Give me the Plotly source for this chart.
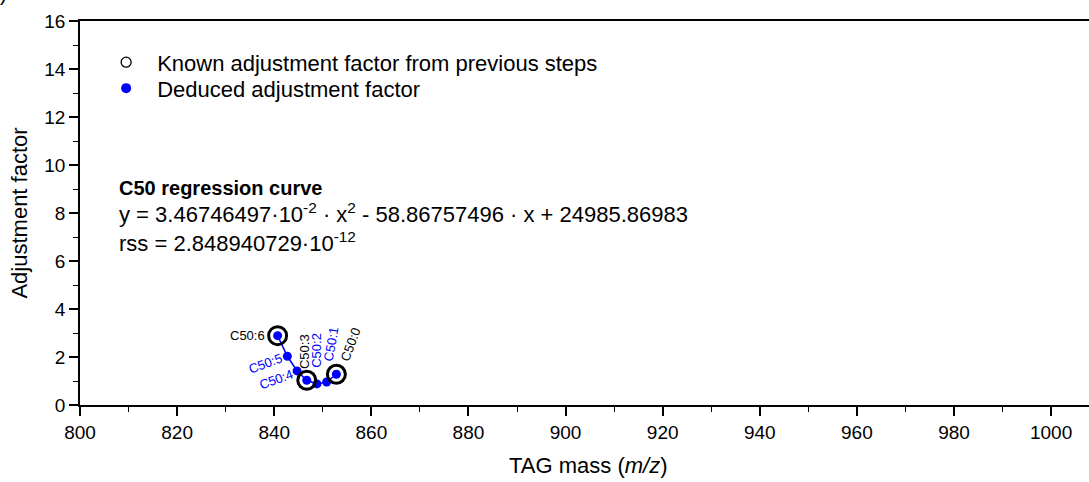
import plotly.graph_objects as go

# ---------------- data ----------------
species = ["C50:6", "C50:5", "C50:4", "C50:3", "C50:2", "C50:1", "C50:0"]
mass = [840.7, 842.7, 844.7, 846.7, 848.8, 850.8, 852.8]
factor = [2.89, 2.03, 1.42, 1.03, 0.88, 0.96, 1.28]
known_species = ["C50:6", "C50:3", "C50:0"]
known_mass = [840.7, 846.7, 852.8]
known_factor = [2.89, 1.03, 1.28]

x_ticks = [800, 820, 840, 860, 880, 900, 920, 940, 960, 980, 1000]
y_ticks = [0, 2, 4, 6, 8, 10, 12, 14, 16]

FONT = "Liberation Sans, Arial, sans-serif"
BLUE = "#0000ff"

fig = go.Figure()

# regression curve / deduced points
fig.add_trace(go.Scatter(
    x=mass, y=factor, mode="lines+markers",
    line=dict(color=BLUE, width=1.5),
    marker=dict(color=BLUE, size=9),
    showlegend=False, hoverinfo="skip"))

# known points (open black circles)
fig.add_trace(go.Scatter(
    x=known_mass, y=known_factor, mode="markers",
    marker=dict(symbol="circle-open", color="black", size=18, line=dict(width=3, color="black")),
    showlegend=False, hoverinfo="skip"))

# legend entries (each in its own legend box for exact placement)
fig.add_trace(go.Scatter(
    x=[None], y=[None], mode="markers", name="Known adjustment factor from previous steps",
    marker=dict(symbol="circle-open", color="black", size=10, line=dict(width=1.3, color="black")),
    legend="legend"))
fig.add_trace(go.Scatter(
    x=[None], y=[None], mode="markers", name="Deduced adjustment factor",
    marker=dict(color=BLUE, size=10), legend="legend2"))

# point labels
label_style = {
    "C50:6": dict(color="black", angle=0, ax=-30, ay=0),
    "C50:5": dict(color=BLUE, angle=-20, ax=-22, ay=7),
    "C50:4": dict(color=BLUE, angle=-20, ax=-21, ay=9),
    "C50:3": dict(color="black", angle=-90, ax=-2, ay=-29),
    "C50:2": dict(color=BLUE, angle=-90, ax=0, ay=-34),
    "C50:1": dict(color=BLUE, angle=-80, ax=5, ay=-38),
    "C50:0": dict(color="black", angle=-70, ax=14, ay=-30),
}
for s, xm, ym in zip(species, mass, factor):
    st = label_style[s]
    fig.add_annotation(x=xm, y=ym, text=s, showarrow=True, arrowcolor="rgba(0,0,0,0)",
                       ax=st["ax"], ay=st["ay"], textangle=st["angle"],
                       font=dict(family=FONT, size=13, color=st["color"]))

# regression text
TXT = 22
fig.add_annotation(xref="paper", yref="paper", x=0.0367, y=0.5647, xanchor="left", yanchor="middle",
                   text="<b>C50 regression curve</b>", showarrow=False,
                   font=dict(family=FONT, size=20, color="black"))
fig.add_annotation(xref="paper", yref="paper", x=0.0367, y=0.499, xanchor="left", yanchor="middle",
                   text="y = 3.46746497·10<sup>-2</sup> · x<sup>2</sup> - 58.86757496 · x + 24985.86983",
                   showarrow=False, font=dict(family=FONT, size=TXT, color="black"))
fig.add_annotation(xref="paper", yref="paper", x=0.0367, y=0.425, xanchor="left", yanchor="middle",
                   text="rss = 2.848940729·10<sup>-12</sup>",
                   showarrow=False, font=dict(family=FONT, size=TXT, color="black"))

# x-axis title
fig.add_annotation(xref="paper", yref="paper", x=(588 - 80) / 1009, y=-(466 - 405) / 384.3,
                   xanchor="center", yanchor="middle",
                   text="TAG mass (<i>m/z</i>)", showarrow=False,
                   font=dict(family=FONT, size=22, color="black"))

# cropped panel-label fragments at the page edges
fig.add_annotation(xref="paper", yref="paper", x=(3 - 80) / 1009, y=1 + (21 + 6) / 384.3,
                   xanchor="center", yanchor="middle", text=")", showarrow=False,
                   font=dict(family=FONT, size=20, color="black"))
fig.add_annotation(xref="paper", yref="paper", x=(12 - 80) / 1009, y=-(490 - 405) / 384.3,
                   xanchor="center", yanchor="middle", text=")", showarrow=False,
                   font=dict(family=FONT, size=20, color="black"))

LEG = 22
leg_common = dict(xanchor="left", yanchor="top", bgcolor="rgba(0,0,0,0)", itemwidth=52,
                  font=dict(family=FONT, size=LEG, color="black"), tracegroupgap=0)

fig.update_layout(
    width=1089, height=482,
    margin=dict(l=80, r=0, t=21, b=77),
    paper_bgcolor="white", plot_bgcolor="white",
    font=dict(family=FONT, size=19, color="black"),
    showlegend=True,
    legend=dict(x=0.015, y=0.947, **leg_common),
    legend2=dict(x=0.015, y=0.947 - 26 / 384.3, **leg_common),
    xaxis=dict(range=[800, 1007.8], tickvals=x_ticks, showgrid=False, zeroline=False,
               showline=True, linecolor="black", linewidth=1.5, mirror=True,
               ticks="outside", ticklen=9, tickwidth=1.5, tickcolor="black",
               minor=dict(dtick=10, ticks="outside", ticklen=5, tickwidth=1.2, tickcolor="black"),
               tickfont=dict(family=FONT, size=19)),
    yaxis=dict(range=[0, 16], tickvals=y_ticks, showgrid=False, zeroline=False,
               showline=True, linecolor="black", linewidth=1.5,
               ticks="outside", ticklen=9, tickwidth=1.5, tickcolor="black",
               minor=dict(dtick=1, ticks="outside", ticklen=5, tickwidth=1.2, tickcolor="black"),
               tickfont=dict(family=FONT, size=19),
               title=dict(text="Adjustment factor", font=dict(family=FONT, size=22), standoff=11)),
)

fig.write_html("out.html")
